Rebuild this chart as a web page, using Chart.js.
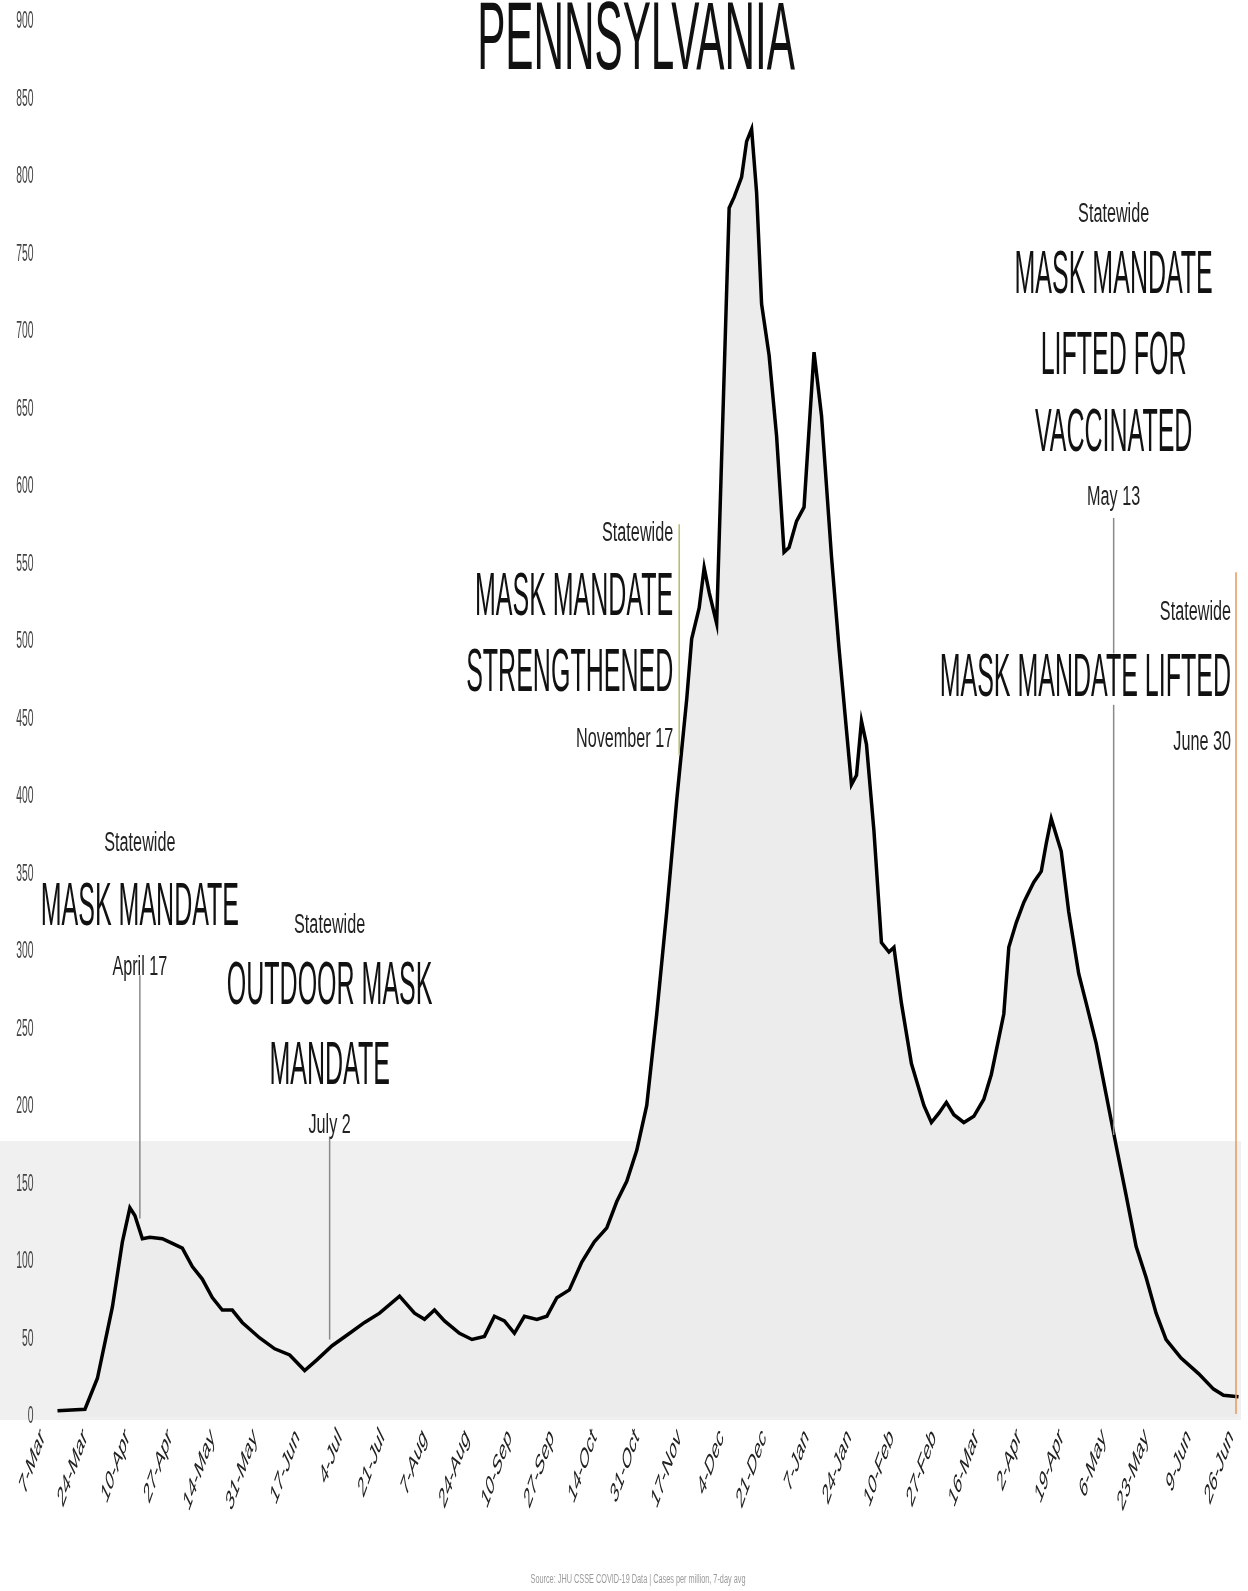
<!DOCTYPE html>
<html>
<head>
<meta charset="utf-8">
<script src="https://cdn.jsdelivr.net/npm/chart.js@4.4.1/dist/chart.umd.min.js"></script>
<style>
  html, body { margin: 0; padding: 0; background: #fff; }
  #wrap { width: 1248px; height: 1591px; position: relative; }
</style>
</head>
<body>
<div id="wrap"><canvas id="paChart" width="1248" height="1591"></canvas></div>
<script>
// days since 7-Mar-2020 and the 7-day average
const days = [8, 19, 24, 30, 34, 37, 39, 42, 45, 50, 54, 58, 62, 66, 70, 74, 78, 82, 89, 95,
  101, 107, 112, 118, 125, 131, 137, 145, 151, 155, 159, 163, 169, 174, 179, 183, 187, 191, 195, 200,
  204, 208, 213, 218, 223, 228, 232, 236, 240, 244, 248, 252, 256, 260, 262, 265, 267, 269, 272, 277,
  279, 282, 284, 286, 288, 290, 293, 296, 299, 301, 304, 307, 311, 314, 318, 321, 324, 326, 328, 330,
  332, 335, 338, 341, 343, 346, 350, 355, 358, 361, 364, 367, 371, 375, 379, 382, 387, 389, 392, 395,
  399, 402, 404, 406, 410, 413, 417, 420, 424, 428, 432, 436, 440, 444, 448, 452, 458, 465, 471, 475, 481];
const values = [4, 5, 25, 71, 113, 135, 130, 115, 116, 115, 112, 109, 97, 89, 77, 69, 69, 61, 51, 44,
  40, 30, 37, 46, 54, 61, 67, 78, 67, 63, 69, 62, 54, 50, 52, 65, 62, 54, 65, 63,
  65, 77, 82, 100, 113, 122, 139, 152, 172, 201, 260, 326, 398, 463, 502, 522, 548, 532, 512, 780,
  787, 800, 823, 831, 790, 718, 685, 633, 558, 561, 578, 587, 687, 646, 555, 496, 443, 408, 414, 449,
  434, 378, 306, 300, 303, 267, 228, 201, 190, 196, 203, 195, 190, 194, 205, 221, 260, 303, 319, 332,
  345, 352, 370, 386, 365, 326, 286, 267, 241, 208, 175, 143, 110, 90, 67, 50, 38, 28, 18, 14, 13];
const tickLabels = ['7-Mar', '24-Mar', '10-Apr', '27-Apr', '14-May', '31-May', '17-Jun', '4-Jul',
  '21-Jul', '7-Aug', '24-Aug', '10-Sep', '27-Sep', '14-Oct', '31-Oct', '17-Nov', '4-Dec', '21-Dec',
  '7-Jan', '24-Jan', '10-Feb', '27-Feb', '16-Mar', '2-Apr', '19-Apr', '6-May', '23-May', '9-Jun', '26-Jun'];
const yTicks = [0, 50, 100, 150, 200, 250, 300, 350, 400, 450, 500, 550, 600, 650, 700, 750, 800, 850, 900];

// annotation lines: day, from/to value, text lines placed at a value height
const events = [
  { day: 41, from: 128, to: 285, color: '#8a8a8a', align: 'center', dx: 0,
    lines: [['Statewide', 370, 's'], ['MASK MANDATE', 328, 'b'], ['April 17', 290, 's']] },
  { day: 117, from: 50, to: 181, color: '#8a8a8a', align: 'center', dx: 0,
    lines: [['Statewide', 317, 's'], ['OUTDOOR MASK', 277, 'b'], ['MANDATE', 226, 'b'], ['July 2', 188, 's']] },
  { day: 257, from: 427, to: 576, color: '#bdb76b', align: 'right', dx: -6,
    lines: [['Statewide', 570, 's'], ['MASK MANDATE', 528, 'b'], ['STRENGTHENED', 479, 'b'], ['November 17', 437, 's']] },
  { day: 431, from: 182, to: 580, color: '#8a8a8a', align: 'center', dx: 0,
    lines: [['Statewide', 776, 's'], ['MASK MANDATE', 736, 'b'], ['LIFTED FOR', 684, 'b'], ['VACCINATED', 634, 'b'], ['May 13', 593, 's']] },
  { day: 480, from: 2, to: 545, color: '#e39a5c', align: 'right', dx: -5, backdrop: true,
    lines: [['Statewide', 519, 's'], ['MASK MANDATE LIFTED', 476, 'b'], ['June 30', 435, 's']] }
];

const FONT = '"Liberation Sans", Arial, sans-serif';

function squeezeText(c, str, x, y, size, sx, align, color, baseline) {
  c.save();
  c.font = size + 'px ' + FONT;
  c.fillStyle = color;
  c.textAlign = align;
  c.textBaseline = baseline || 'middle';
  c.translate(x, y);
  c.scale(sx, 1);
  c.fillText(str, 0, 0);
  c.restore();
}

const bandPlugin = {
  id: 'band',
  beforeDatasetsDraw(chart) {
    const c = chart.ctx, y = chart.scales.y, a = chart.chartArea;
    c.save();
    c.fillStyle = '#f0f0f0';
    const top = y.getPixelForValue(178);
    c.fillRect(0, top, a.right, a.bottom - top + 3);
    c.restore();
  }
};

const textPlugin = {
  id: 'texts',
  afterDatasetsDraw(chart) {
    const c = chart.ctx, xs = chart.scales.x, ys = chart.scales.y, a = chart.chartArea;

    // y tick labels
    yTicks.forEach(v => {
      squeezeText(c, String(v), a.left - 4, ys.getPixelForValue(v), 23, 0.45, 'right', '#444');
    });

    // x tick labels, rotated then squeezed
    tickLabels.forEach((lab, i) => {
      const px = xs.getPixelForValue(i * 17);
      c.save();
      c.font = '29px ' + FONT;
      c.fillStyle = '#222';
      c.textAlign = 'right';
      c.textBaseline = 'middle';
      c.translate(px + 5, a.bottom + 16);
      c.scale(0.42, 1);
      c.rotate(-50 * Math.PI / 180);
      c.fillText(lab, 0, 0);
      c.restore();
    });

    // event annotations
    events.forEach(ev => {
      const px = xs.getPixelForValue(ev.day);
      c.save();
      c.strokeStyle = ev.color;
      c.lineWidth = 1.5;
      c.beginPath();
      c.moveTo(px, ys.getPixelForValue(ev.from));
      c.lineTo(px, ys.getPixelForValue(ev.to));
      c.stroke();
      c.restore();
      ev.lines.forEach(([txt, v, kind]) => {
        const big = kind === 'b';
        const size = big ? 61 : 27;
        const sx = big ? 0.41 : 0.6;
        const py = ys.getPixelForValue(v);
        const tx = px + ev.dx;
        if (ev.backdrop && big) {
          c.save();
          c.font = size + 'px ' + FONT;
          const w = c.measureText(txt).width * sx;
          c.fillStyle = '#fff';
          c.fillRect(tx - w - 2, py - size * 0.42, w + 4, size * 0.84);
          c.restore();
        }
        squeezeText(c, txt, tx, py, size, sx, ev.align, big ? '#111' : '#222');
      });
    });

    // title
    squeezeText(c, 'PENNSYLVANIA', 636, 69, 96, 0.44, 'center', '#111', 'alphabetic');

    // source line
    c.save();
    c.font = '12px ' + FONT;
    const src = 'Source: JHU CSSE COVID-19 Data | Cases per million, 7-day avg';
    const sw = c.measureText(src).width;
    c.restore();
    squeezeText(c, src, 638, 1580, 12, 215 / sw, 'center', '#9a9a9a');
  }
};

document.addEventListener('DOMContentLoaded', function () {
  const ctx = document.getElementById('paChart').getContext('2d');
  new Chart(ctx, {
    type: 'line',
    data: {
      datasets: [{
        data: days.map((d, i) => ({ x: d, y: values[i] })),
        borderColor: '#000',
        borderWidth: 3.5,
        backgroundColor: '#ececec',
        fill: 'origin',
        pointRadius: 0,
        tension: 0
      }]
    },
    options: {
      responsive: false,
      animation: false,
      layout: { padding: { left: 37.5, right: 7, top: 22, bottom: 174 } },
      scales: {
        x: { type: 'linear', min: 0, max: 482, display: false },
        y: { min: 0, max: 900, display: false }
      },
      plugins: { legend: { display: false }, tooltip: { enabled: false } }
    },
    plugins: [bandPlugin, textPlugin]
  });
});
</script>
</body>
</html>
